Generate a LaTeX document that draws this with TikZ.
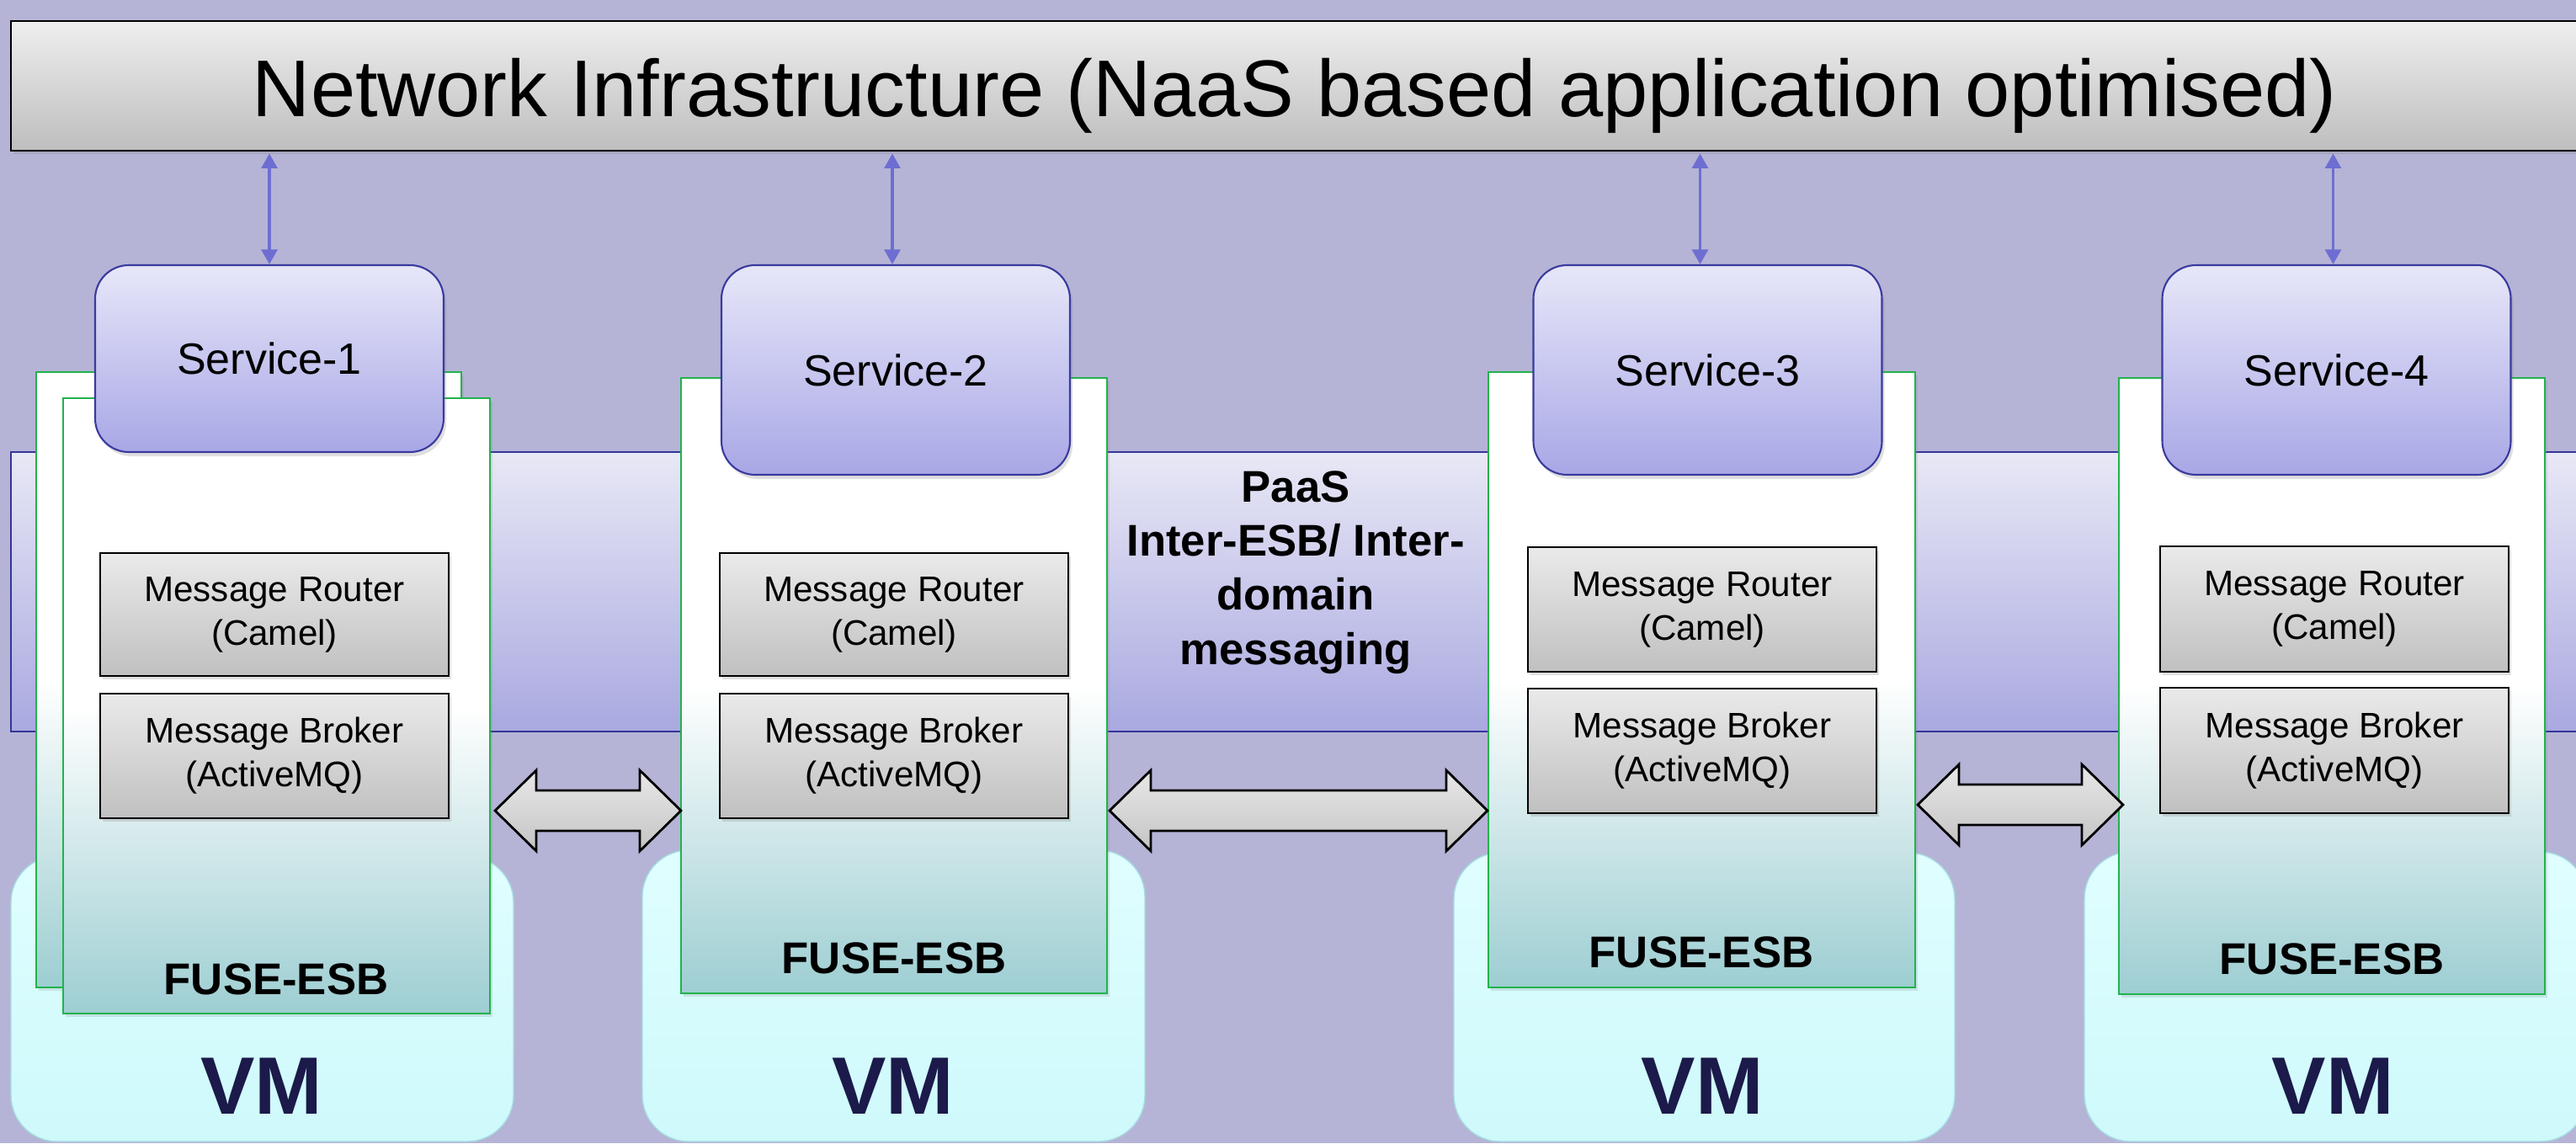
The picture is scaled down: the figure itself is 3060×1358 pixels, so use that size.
\documentclass[tikz,border=0pt]{standalone}
\usepackage{fontspec}
\setmainfont{Liberation Sans}
\usetikzlibrary{arrows.meta,calc,shadows}

\definecolor{bgcol}{HTML}{B5B4D6}
\definecolor{titletop}{HTML}{EEEEEE}
\definecolor{titlebot}{HTML}{BEBEBE}
\definecolor{bandtop}{HTML}{E8E8F6}
\definecolor{bandbot}{HTML}{A9A8E0}
\definecolor{bandline}{HTML}{35359A}
\definecolor{vmtop}{HTML}{E0FEFF}
\definecolor{vmbot}{HTML}{CEF9FB}
\definecolor{vmline}{HTML}{A6DDE2}
\definecolor{esbbot}{HTML}{9DCED2}
\definecolor{esbline}{HTML}{22B24C}
\definecolor{svctop}{HTML}{E7E7F9}
\definecolor{svcbot}{HTML}{A8A7E6}
\definecolor{svcline}{HTML}{3A3A9E}
\definecolor{msgtop}{HTML}{EAEAEA}
\definecolor{msgbot}{HTML}{C0C0C0}
\definecolor{arrowblue}{HTML}{6E6ED2}
\definecolor{vmtext}{HTML}{1B1A4A}
\definecolor{blocktop}{HTML}{E8E8E8}
\definecolor{blockbot}{HTML}{C4C4C4}

\newcommand\fTitle{\fontsize{27.2pt}{32pt}\selectfont}
\newcommand\fSvc{\fontsize{14.8pt}{18pt}\selectfont}
\newcommand\fMsg{\fontsize{12pt}{14.8pt}\selectfont}
\newcommand\fEsb{\fontsize{15pt}{18pt}\selectfont\bfseries}
\newcommand\fPaas{\fontsize{15pt}{18.3pt}\selectfont\bfseries}
\newcommand\fVm{\fontsize{27.5pt}{32pt}\selectfont\bfseries}

\newcommand\blockarrow[2]{%
  \draw[blockarr] (#1) -- ($(#1)+(49,-48)$) -- ($(#1)+(49,-24)$)
    -- ($(#2)+(-49,-24)$) -- ($(#2)+(-49,-48)$) -- (#2)
    -- ($(#2)+(-49,48)$) -- ($(#2)+(-49,24)$) -- ($(#1)+(49,24)$)
    -- ($(#1)+(49,48)$) -- cycle;}

\tikzset{
  titlebox/.style={draw=black, line width=0.8pt, top color=titletop, bottom color=titlebot, inner sep=0pt,
    drop shadow={opacity=0.25, shadow xshift=0.3mm, shadow yshift=-0.4mm}},
  bandbox/.style={draw=bandline, line width=0.6pt, top color=bandtop, bottom color=bandbot, inner sep=0pt},
  vmbox/.style={rounded corners=5.5mm, draw=vmline, line width=0.4pt, top color=vmtop, bottom color=vmbot, inner sep=0pt},
  esbbox/.style={draw=esbline, line width=0.6pt, top color=white, bottom color=esbbot, middle color=white, inner sep=0pt,
    drop shadow={opacity=0.2, shadow xshift=0.3mm, shadow yshift=-0.4mm}},
  svcbox/.style={rounded corners=4mm, draw=svcline, line width=0.6pt, top color=svctop, bottom color=svcbot,
    inner sep=0pt, font=\fSvc, minimum width=41.4mm,
    drop shadow={opacity=0.25, shadow xshift=0.3mm, shadow yshift=-0.5mm}},
  msgbox/.style={draw=black, line width=0.8pt, top color=msgtop, bottom color=msgbot, align=center,
    inner sep=0pt, font=\fMsg, minimum width=41.4mm,
    drop shadow={opacity=0.25, shadow xshift=0.3mm, shadow yshift=-0.4mm}},
  esbtext/.style={anchor=base, font=\fEsb, inner sep=0pt},
  vmtextstyle/.style={anchor=base, font=\fVm, text=vmtext, inner sep=0pt},
  conn/.style={draw=arrowblue, line width=0.9pt, {Triangle[length=5pt,width=5.4pt]}-{Triangle[length=5pt,width=5.4pt]}},
  blockarr/.style={draw=black, line width=0.8pt, top color=blocktop, bottom color=blockbot, line join=miter}
}

\begin{document}
\begin{tikzpicture}[x=0.1mm, y=-0.1mm]
\useasboundingbox (0,0) rectangle (3060,1358);
\fill[bgcol] (0,0) rectangle (3060,1358);

% VM boxes
\node[vmbox, minimum width=59.7mm, minimum height=33.9mm] (vm1) at (311.5,1186.5) {};
\node[vmbox, minimum width=59.7mm, minimum height=34.6mm] (vm2) at (1061.5,1183) {};
\node[vmbox, minimum width=59.5mm, minimum height=34.3mm] (vm3) at (2024.5,1184.5) {};
\node[vmbox, minimum width=59.7mm, minimum height=34.4mm] (vm4) at (2774.5,1184) {};

% PaaS band
\node[bandbox, minimum width=306.2mm, minimum height=33.2mm] (band) at (1544,703) {};

% title
\node[titlebox, minimum width=305.0mm, minimum height=15.4mm] (title) at (1538,102) {};
\node[anchor=base, font=\fTitle, inner sep=0pt] (titletext) at (1538,138)
  {Network Infrastructure (NaaS based application optimised)};

% ESB containers
\node[esbbox, minimum width=50.5mm, minimum height=73.1mm] (c1b) at (295.5,807.5) {};
\node[esbbox, minimum width=50.7mm, minimum height=73.1mm] (c1) at (328.5,838.5) {};
\node[esbbox, minimum width=50.6mm, minimum height=73.1mm] (c2) at (1062,814.5) {};
\node[esbbox, minimum width=50.7mm, minimum height=73.1mm] (c3) at (2021.5,807.5) {};
\node[esbbox, minimum width=50.6mm, minimum height=73.2mm] (c4) at (2770,815) {};

% services
\node[svcbox, minimum height=22.2mm] (s1) at (320,426) {Service-1};
\node[svcbox, minimum height=24.9mm] (s2) at (1064,439.5) {Service-2};
\node[svcbox, minimum height=24.9mm] (s3) at (2028.5,439.5) {Service-3};
\node[svcbox, minimum height=24.9mm] (s4) at (2775.5,439.5) {Service-4};

% message boxes
\node[msgbox, minimum height=14.6mm] (r1) at (326,730) {Message Router\\(Camel)};
\node[msgbox, minimum height=14.8mm] (b1) at (326,898) {Message Broker\\(ActiveMQ)};
\node[msgbox, minimum height=14.6mm] (r2) at (1062,730) {Message Router\\(Camel)};
\node[msgbox, minimum height=14.8mm] (b2) at (1062,898) {Message Broker\\(ActiveMQ)};
\node[msgbox, minimum height=14.8mm] (r3) at (2022,724) {Message Router\\(Camel)};
\node[msgbox, minimum height=14.8mm] (b3) at (2022,892) {Message Broker\\(ActiveMQ)};
\node[msgbox, minimum height=14.9mm] (r4) at (2773,723.5) {Message Router\\(Camel)};
\node[msgbox, minimum height=14.9mm] (b4) at (2773,891.5) {Message Broker\\(ActiveMQ)};

% FUSE-ESB labels
\node[esbtext] (e1) at (328,1181) {FUSE-ESB};
\node[esbtext] (e2) at (1062,1156) {FUSE-ESB};
\node[esbtext] (e3) at (2021,1149) {FUSE-ESB};
\node[esbtext] (e4) at (2770,1157) {FUSE-ESB};

% VM labels
\node[vmtextstyle] (v1) at (311,1323) {VM};
\node[vmtextstyle] (v2) at (1061,1323) {VM};
\node[vmtextstyle] (v3) at (2022,1323) {VM};
\node[vmtextstyle] (v4) at (2771,1323) {VM};

% PaaS text
\node[font=\fPaas, align=center, inner sep=0pt] (paas) at (1539,680)
  {PaaS\\Inter-ESB/ Inter-\\domain\\messaging};

% block arrows between ESBs
\coordinate (a1l) at ($(c1.east |- 0,963)+(5,0)$);
\coordinate (a1r) at ($(c2.west |- 0,963)+(1,0)$);
\coordinate (a2l) at ($(c2.east |- 0,963)+(2,0)$);
\coordinate (a2r) at (c3.west |- 0,963);
\coordinate (a3l) at ($(c3.east |- 0,956)+(2,0)$);
\coordinate (a3r) at ($(c4.west |- 0,956)+(6,0)$);
\blockarrow{a1l}{a1r}
\blockarrow{a2l}{a2r}
\blockarrow{a3l}{a3r}

% network arrows
\draw[conn] ($(title.south -| s1.north)+(0,2)$) -- (s1.north);
\draw[conn] ($(title.south -| s2.north)+(-4,2)$) -- ($(s2.north)+(-4,0)$);
\draw[conn] ($(title.south -| s3.north)+(-9,2)$) -- ($(s3.north)+(-9,0)$);
\draw[conn] ($(title.south -| s4.north)+(-4,2)$) -- ($(s4.north)+(-4,0)$);
\end{tikzpicture}
\end{document}
